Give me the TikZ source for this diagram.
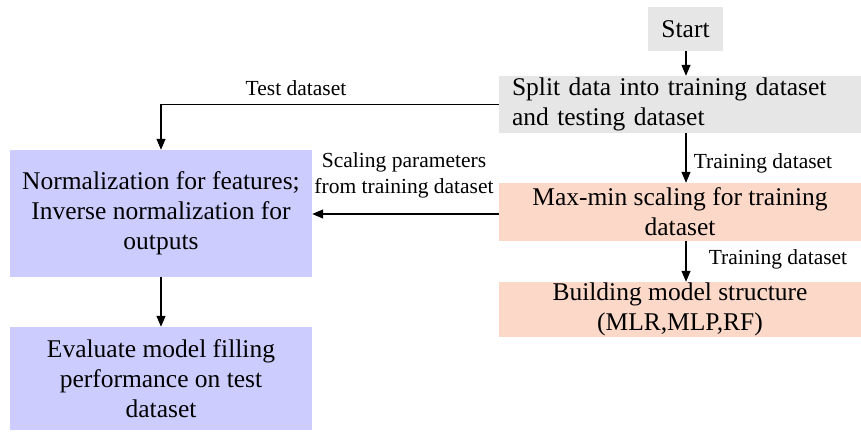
\documentclass[tikz,border=0pt]{standalone}
\usepackage{fontspec}
\setmainfont{Liberation Serif}
\usetikzlibrary{arrows.meta,positioning}
\definecolor{grayfill}{HTML}{E6E6E6}
\definecolor{bluefill}{HTML}{CCCCFF}
\definecolor{peachfill}{HTML}{FBD8C8}
\tikzset{
  box/.style={rectangle, draw=none, inner sep=0pt, align=center, font=\fontsize{25.5}{30}\selectfont},
  graybox/.style={box, fill=grayfill},
  bluebox/.style={box, fill=bluefill},
  peachbox/.style={box, fill=peachfill},
  lbl/.style={font=\fontsize{21.5}{26}\selectfont, align=center, inner sep=0pt},
  arr/.style={line width=1.2pt, -{Triangle[length=11pt,width=9pt]}},
  ln/.style={line width=1.2pt}
}
\begin{document}
\begin{tikzpicture}[x=1pt,y=1pt]
\useasboundingbox[fill=white] (0,0) rectangle (861,433);
\node[graybox, minimum width=75, minimum height=44] (start) at (685.5,404) {Start};
\node[graybox, minimum width=362, minimum height=57, text width=336, align=left] (split) at (680,328.5) {Split data into training dataset\\and testing dataset};
\node[peachbox, minimum width=362, minimum height=58] (maxmin) at (680,221) {Max-min scaling for training\\dataset};
\node[peachbox, minimum width=362, minimum height=55] (build) at (680,123.5) {Building model structure\\(MLR,MLP,RF)};
\node[bluebox, minimum width=302, minimum height=127] (norm) at (161,219.5) {Normalization for features;\\Inverse normalization for\\outputs};
\node[bluebox, minimum width=302, minimum height=103] (eval) at (161,54.5) {Evaluate model filling\\performance on test\\dataset};
\coordinate (cx) at (686,0);
\draw[arr] (start.south -| cx) -- (split.north -| cx);
\draw[arr] (split.south -| cx) -- (maxmin.north -| cx);
\draw[arr] (maxmin.south -| cx) -- (build.north -| cx);
\draw[arr] (split.west) -| (norm.north);
\draw[arr] (maxmin.west |- 0,219) -- (norm.east |- 0,219);
\draw[arr] (norm.south) -- (eval.north);
\node[lbl] (ltest) at (296,345) {Test dataset};
\node[lbl] (lscale) at (404,258) {Scaling parameters\\from training dataset};
\node[lbl] (ltrain1) at (763,270) {Training dataset};
\node[lbl] (ltrain2) at (778,174) {Training dataset};
\end{tikzpicture}
\end{document}
